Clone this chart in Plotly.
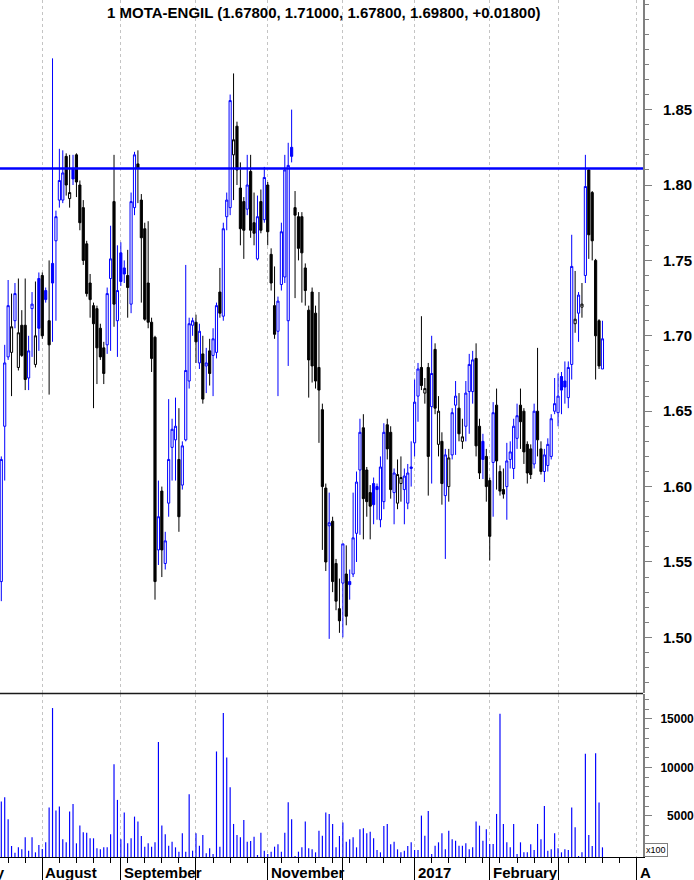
import pandas as pd
import plotly.graph_objects as go

# ---------------- data ----------------
title_text = "1 MOTA-ENGIL (1.67800, 1.71000, 1.67800, 1.69800, +0.01800)"
first_day = "2016-07-14"
market_holidays = ["2016-12-26"]
resistance_level = 1.811

opens = [
    1.537, 1.640, 1.686, 1.689, 1.710, 1.679, 1.707, 1.707, 1.672, 1.718, 1.681, 1.738,
    1.740, 1.730, 1.710, 1.748, 1.763, 1.790, 1.790, 1.819, 1.791, 1.811, 1.820, 1.800,
    1.785, 1.761, 1.735, 1.720, 1.718, 1.705, 1.692, 1.694, 1.738, 1.789, 1.710,
    1.755, 1.745, 1.740, 1.721, 1.785, 1.814, 1.790, 1.771, 1.735, 1.709, 1.699, 1.558,
    1.597, 1.549, 1.589, 1.626, 1.631, 1.618, 1.601, 1.631, 1.670, 1.707,
    1.709, 1.682, 1.688, 1.680, 1.690, 1.687, 1.689, 1.729, 1.713, 1.779, 1.785, 1.820,
    1.839, 1.798, 1.789, 1.784, 1.809, 1.775, 1.751, 1.789, 1.777,
    1.800, 1.754, 1.720, 1.703, 1.734, 1.739, 1.710, 1.825, 1.785, 1.779, 1.779, 1.745,
    1.717, 1.729, 1.715, 1.679, 1.651, 1.599, 1.574, 1.577, 1.549, 1.519,
    1.536, 1.542, 1.537, 1.542, 1.569, 1.611, 1.639, 1.611, 1.596, 1.602, 1.600, 1.578,
    1.590, 1.641, 1.636, 1.596, 1.589, 1.602, 1.598, 1.589, 1.612,
    1.629, 1.660, 1.679, 1.662, 1.679, 1.653, 1.691, 1.628, 1.630, 1.594, 1.600, 1.621,
    1.654, 1.652, 1.630, 1.640, 1.663, 1.663, 1.685, 1.640, 1.630, 1.620,
    1.604, 1.616, 1.654, 1.610, 1.598, 1.600, 1.618, 1.612, 1.632, 1.654, 1.650, 1.628,
    1.625, 1.615, 1.650, 1.625, 1.610, 1.614, 1.620, 1.650,
    1.649, 1.673, 1.670, 1.659, 1.681, 1.708, 1.715, 1.719, 1.740, 1.810, 1.795, 1.750,
    1.710, 1.678,
]
highs = [
    1.620, 1.694, 1.737, 1.728, 1.735, 1.738, 1.717, 1.738, 1.700, 1.729, 1.736, 1.742,
    1.742, 1.732, 1.750, 1.884, 1.783, 1.824, 1.823, 1.821, 1.820, 1.820, 1.821, 1.803,
    1.790, 1.763, 1.741, 1.722, 1.720, 1.708, 1.696, 1.732, 1.773, 1.820, 1.760,
    1.762, 1.750, 1.757, 1.795, 1.822, 1.823, 1.794, 1.775, 1.776, 1.712, 1.700, 1.604,
    1.600, 1.570, 1.658, 1.645, 1.659, 1.652, 1.630, 1.747, 1.712, 1.712,
    1.714, 1.708, 1.700, 1.692, 1.698, 1.705, 1.722, 1.745, 1.775, 1.795, 1.860, 1.874,
    1.842, 1.815, 1.792, 1.820, 1.820, 1.795, 1.793, 1.797, 1.812,
    1.802, 1.758, 1.746, 1.726, 1.775, 1.820, 1.828, 1.850, 1.796, 1.782, 1.782, 1.748,
    1.720, 1.732, 1.720, 1.729, 1.655, 1.602, 1.596, 1.580, 1.552, 1.539,
    1.562, 1.561, 1.545, 1.596, 1.610, 1.645, 1.648, 1.613, 1.601, 1.606, 1.602, 1.620,
    1.642, 1.645, 1.640, 1.612, 1.618, 1.620, 1.612, 1.615, 1.630,
    1.671, 1.682, 1.713, 1.672, 1.682, 1.700, 1.695, 1.660, 1.636, 1.625, 1.625, 1.652,
    1.670, 1.662, 1.645, 1.670, 1.688, 1.690, 1.695, 1.645, 1.635, 1.625,
    1.606, 1.656, 1.665, 1.614, 1.612, 1.629, 1.630, 1.645, 1.655, 1.665, 1.652, 1.630,
    1.628, 1.655, 1.692, 1.630, 1.625, 1.632, 1.648, 1.672,
    1.675, 1.676, 1.683, 1.683, 1.767, 1.743, 1.729, 1.735, 1.820, 1.811, 1.796, 1.751,
    1.711, 1.710,
]
lows = [
    1.524, 1.604, 1.684, 1.660, 1.705, 1.677, 1.686, 1.664, 1.664, 1.686, 1.679, 1.690,
    1.698, 1.722, 1.661, 1.696, 1.710, 1.785, 1.788, 1.793, 1.785, 1.800, 1.792, 1.770,
    1.747, 1.726, 1.712, 1.652, 1.668, 1.684, 1.668, 1.688, 1.690, 1.706, 1.686,
    1.733, 1.735, 1.712, 1.715, 1.780, 1.788, 1.722, 1.710, 1.705, 1.676, 1.525, 1.548,
    1.540, 1.545, 1.580, 1.604, 1.604, 1.570, 1.598, 1.630, 1.665, 1.700,
    1.682, 1.678, 1.655, 1.662, 1.667, 1.660, 1.685, 1.712, 1.710, 1.770, 1.780, 1.790,
    1.800, 1.760, 1.751, 1.780, 1.765, 1.760, 1.750, 1.768, 1.775,
    1.760, 1.730, 1.698, 1.660, 1.730, 1.735, 1.680, 1.815, 1.725, 1.750, 1.722, 1.720,
    1.659, 1.669, 1.665, 1.629, 1.558, 1.544, 1.499, 1.530, 1.518, 1.503,
    1.500, 1.508, 1.525, 1.540, 1.550, 1.568, 1.565, 1.580, 1.565, 1.575, 1.578, 1.573,
    1.585, 1.618, 1.592, 1.575, 1.585, 1.590, 1.575, 1.585, 1.600,
    1.620, 1.643, 1.664, 1.655, 1.594, 1.602, 1.648, 1.620, 1.588, 1.552, 1.590, 1.618,
    1.621, 1.630, 1.625, 1.630, 1.635, 1.655, 1.620, 1.605, 1.605, 1.590,
    1.551, 1.580, 1.598, 1.594, 1.592, 1.578, 1.612, 1.605, 1.625, 1.625, 1.615, 1.602,
    1.605, 1.612, 1.620, 1.608, 1.603, 1.610, 1.618, 1.648,
    1.640, 1.648, 1.655, 1.652, 1.671, 1.702, 1.696, 1.712, 1.735, 1.751, 1.750, 1.671,
    1.678, 1.678,
]
closes = [
    1.618, 1.682, 1.720, 1.706, 1.728, 1.702, 1.687, 1.671, 1.690, 1.721, 1.700, 1.705,
    1.700, 1.724, 1.694, 1.735, 1.779, 1.803, 1.808, 1.800, 1.795, 1.804, 1.802, 1.775,
    1.750, 1.728, 1.724, 1.708, 1.692, 1.686, 1.675, 1.728, 1.751, 1.721, 1.730,
    1.736, 1.741, 1.732, 1.789, 1.820, 1.811, 1.765, 1.711, 1.709, 1.685, 1.537, 1.580,
    1.558, 1.564, 1.618, 1.638, 1.640, 1.580, 1.627, 1.677, 1.708, 1.710,
    1.696, 1.703, 1.658, 1.682, 1.675, 1.698, 1.720, 1.715, 1.771, 1.790, 1.856, 1.830,
    1.810, 1.771, 1.770, 1.800, 1.770, 1.768, 1.779, 1.770, 1.805,
    1.769, 1.735, 1.701, 1.723, 1.769, 1.810, 1.813, 1.819, 1.780, 1.758, 1.755, 1.730,
    1.684, 1.680, 1.670, 1.664, 1.600, 1.550, 1.576, 1.537, 1.524, 1.511,
    1.562, 1.514, 1.535, 1.566, 1.603, 1.636, 1.592, 1.590, 1.587, 1.588, 1.598, 1.613,
    1.636, 1.625, 1.598, 1.609, 1.608, 1.606, 1.607, 1.609, 1.613,
    1.656, 1.678, 1.667, 1.665, 1.620, 1.675, 1.652, 1.650, 1.602, 1.621, 1.619, 1.649,
    1.660, 1.635, 1.633, 1.662, 1.681, 1.684, 1.627, 1.609, 1.618, 1.600,
    1.567, 1.649, 1.617, 1.597, 1.595, 1.617, 1.623, 1.640, 1.647, 1.643, 1.623, 1.609,
    1.608, 1.650, 1.631, 1.610, 1.621, 1.628, 1.645, 1.655,
    1.660, 1.664, 1.666, 1.679, 1.746, 1.711, 1.727, 1.721, 1.799, 1.767, 1.763, 1.700,
    1.680, 1.698,
]
volumes = [  # units of 100 shares
    6476, 6924, 4655, 1906, 1218, 1768, 1562, 2800, 1425, 2800, 1253, 2009,
    1597, 2284, 5858, 16100, 5549, 5961, 2593, 2284, 5446, 6236, 2181, 4002,
    3315, 3281, 2697, 2697, 1665, 1562, 1768, 1768, 3109, 10326, 6649,
    2593, 5343, 2181, 2697, 4930, 4415, 2937, 1837, 2181, 1837, 2284, 12595,
    4002, 3109, 1940, 2353, 1768, 1321, 3212, 1321, 7233, 1425,
    3212, 1940, 3040, 1150, 1665, 1081, 11632, 1837, 15585, 11014, 7955, 4174,
    3040, 2800, 4587, 2353, 2421, 2869, 978, 3281, 1425,
    1081, 1321, 1837, 2078, 1321, 3281, 6408, 4655, 874, 1321, 1768, 4415,
    1665, 1562, 1253, 3487, 2972, 5343, 5205, 4174, 1768, 2937,
    4312, 2353, 2593, 2800, 1768, 3624, 3727, 3212, 3384, 2697, 1494, 1253,
    3968, 4174, 2078, 2353, 1562, 1253, 1425, 1906, 2284,
    1494, 1494, 5033, 2972, 5515, 1081, 1940, 2284, 3212, 1562, 3487, 2593,
    2456, 1940, 1940, 2181, 1562, 1768, 4415, 4002, 2456, 3624,
    2112, 2112, 5205, 15516, 4174, 2284, 1768, 4174, 1081, 2284, 1253, 1253,
    2078, 1494, 4174, 2593, 6030, 1425, 1562, 3212,
    1665, 1253, 1562, 1494, 5858, 3830, 874, 1253, 11392, 3040, 1906, 11461,
    6374, 1768,
]
month_labels = {"2016-07": "July", "2016-08": "August", "2016-09": "September",
                "2016-11": "November", "2017-01": "2017", "2017-02": "February",
                "2017-04": "A"}
price_ticks = [1.50, 1.55, 1.60, 1.65, 1.70, 1.75, 1.80, 1.85]
volume_ticks = [5000, 10000, 15000]
volume_tick_text = ["\u20075000", "10000", "15000"]

# ---------------- trading calendar -> index positions ----------------
hol = {pd.Timestamp(h) for h in market_holidays}
cal = [d for d in pd.bdate_range("2016-07-01", "2017-04-28") if d not in hol]
first = cal.index(pd.Timestamp(first_day))
pos = {d: i - first for i, d in enumerate(cal)}
n = len(closes)
xs = list(range(n))

month_starts = []
prev = None
for d in cal:
    k = d.strftime("%Y-%m")
    if k != prev:
        month_starts.append((k, pos[d]))
        prev = k
week_starts = []
prevw = None
for d in cal:
    w = d.isocalendar()[1]
    if w != prevw:
        week_starts.append(pos[d])
        prevw = w

X_MIN, X_MAX = -0.38, 187.87
Y_MIN, Y_MAX = 1.4631, 1.9227
V_MIN, V_MAX = 773, 17546

up = [True] + [closes[i] >= closes[i - 1] for i in range(1, n)]
blue_idx = [i for i in range(n) if up[i]]
black_idx = [i for i in range(n) if not up[i]]


def pick(arr, idx):
    return [arr[i] for i in idx]


BLUE = "#0000ff"
fig = go.Figure()
fig.add_trace(go.Candlestick(
    x=blue_idx, open=pick(opens, blue_idx), high=pick(highs, blue_idx),
    low=pick(lows, blue_idx), close=pick(closes, blue_idx),
    increasing=dict(line=dict(color=BLUE, width=1), fillcolor="#ffffff"),
    decreasing=dict(line=dict(color=BLUE, width=1), fillcolor=BLUE),
    xaxis="x", yaxis="y", showlegend=False, hoverinfo="skip"))
fig.add_trace(go.Candlestick(
    x=black_idx, open=pick(opens, black_idx), high=pick(highs, black_idx),
    low=pick(lows, black_idx), close=pick(closes, black_idx),
    increasing=dict(line=dict(color="#000000", width=1), fillcolor="#ffffff"),
    decreasing=dict(line=dict(color="#000000", width=1), fillcolor="#000000"),
    xaxis="x", yaxis="y", showlegend=False, hoverinfo="skip"))
fig.add_trace(go.Bar(
    x=xs, y=volumes, width=0.34, marker=dict(color="#0000ff", line=dict(width=0)),
    xaxis="x2", yaxis="y2", showlegend=False, hoverinfo="skip"))

PLOT_W = 647
PLOT_H = 857
price_bottom = (PLOT_H - 693) / PLOT_H
vol_top = (PLOT_H - 694) / PLOT_H

grid = dict(showgrid=True, gridcolor="#c4c4c4", gridwidth=1, griddash="3px,3px")
month_vals = [p for _, p in month_starts]
bold = dict(family="Liberation Sans, Arial, sans-serif", size=15, color="black", weight="bold")

fig.update_layout(
    width=694, height=880, margin=dict(l=0, r=694 - PLOT_W, t=0, b=880 - PLOT_H),
    paper_bgcolor="white", plot_bgcolor="white", showlegend=False, hovermode=False,
    boxgap=0.1,
    font=dict(family="Liberation Sans, Arial, sans-serif", color="black"),
    xaxis=dict(domain=[0, 1], anchor="y", range=[X_MIN, X_MAX],
               rangeslider=dict(visible=False), showticklabels=False, ticks="",
               tickmode="array", tickvals=month_vals, zeroline=False, showline=False, **grid),
    xaxis2=dict(domain=[0, 1], anchor="y2", range=[X_MIN, X_MAX], matches="x",
                rangeslider=dict(visible=False), showticklabels=False,
                tickmode="array", tickvals=month_vals, ticks="outside", ticklen=23,
                tickcolor="black", tickwidth=1,
                minor=dict(tickmode="array", tickvals=week_starts, ticks="outside",
                           ticklen=5, tickcolor="black", tickwidth=1),
                showline=True, linecolor="black", linewidth=1, zeroline=False, **grid),
    yaxis=dict(domain=[price_bottom, 1], anchor="x", side="right", range=[Y_MIN, Y_MAX],
               tickmode="array", tickvals=price_ticks,
               ticktext=[f"{v:.2f}" for v in price_ticks], ticks="outside", ticklen=7,
               tickcolor="#808080", tickwidth=1, showline=True, linecolor="#808080",
               linewidth=2, showgrid=False, zeroline=False, tickfont=bold,
               ticklabelstandoff=8,
               minor=dict(tickmode="array",
                          tickvals=[round(1.46 + 0.01 * k, 2) for k in range(47)],
                          ticks="outside", ticklen=4, tickcolor="#808080", tickwidth=1)),
    yaxis2=dict(domain=[0, vol_top], anchor="x2", side="right", range=[V_MIN, V_MAX],
                tickmode="array", tickvals=volume_ticks, ticktext=volume_tick_text,
                ticks="outside", ticklen=7, tickcolor="#808080", tickwidth=1,
                showline=True, linecolor="#808080", linewidth=2, showgrid=False,
                zeroline=False, ticklabelstandoff=6,
                tickfont=dict(family="Liberation Sans, Arial, sans-serif", size=12,
                              color="black", weight="bold"),
                minor=dict(tickmode="array", tickvals=[1000 * k for k in range(1, 18)],
                           ticks="outside", ticklen=4, tickcolor="#808080", tickwidth=1)),
)

fig.add_shape(type="line", xref="paper", yref="y", x0=0, x1=1,
              y0=resistance_level, y1=resistance_level,
              line=dict(color=BLUE, width=2.5), layer="above")
fig.add_shape(type="line", xref="paper", yref="paper", x0=0, x1=1,
              y0=(price_bottom + vol_top) / 2, y1=(price_bottom + vol_top) / 2,
              line=dict(color="#1a1a1a", width=1.5))

fig.add_annotation(text=title_text, xref="paper", yref="paper", x=325.5 / PLOT_W, y=1,
                   xanchor="center", yanchor="top", yshift=-2, showarrow=False, font=bold)

for key, p in month_starts:
    if key in month_labels:
        fx = (p - X_MIN) / (X_MAX - X_MIN)
        fig.add_annotation(text=month_labels[key], xref="paper", yref="paper", x=fx, y=0,
                           xanchor="left", yanchor="top", xshift=1, yshift=-5,
                           showarrow=False, font=bold)

fig.add_annotation(text="x100", xref="paper", yref="paper", x=1.0, y=0,
                   xanchor="left", yanchor="bottom", xshift=1, showarrow=False,
                   font=dict(family="Liberation Sans, Arial, sans-serif", size=9, color="black"),
                   bordercolor="#808080", borderwidth=1, borderpad=1, bgcolor="white")

fig.write_html("out.html", config={"displayModeBar": False, "staticPlot": True},
               post_script="document.body.style.margin='0px';"
                           "document.body.style.overflow='hidden';")
